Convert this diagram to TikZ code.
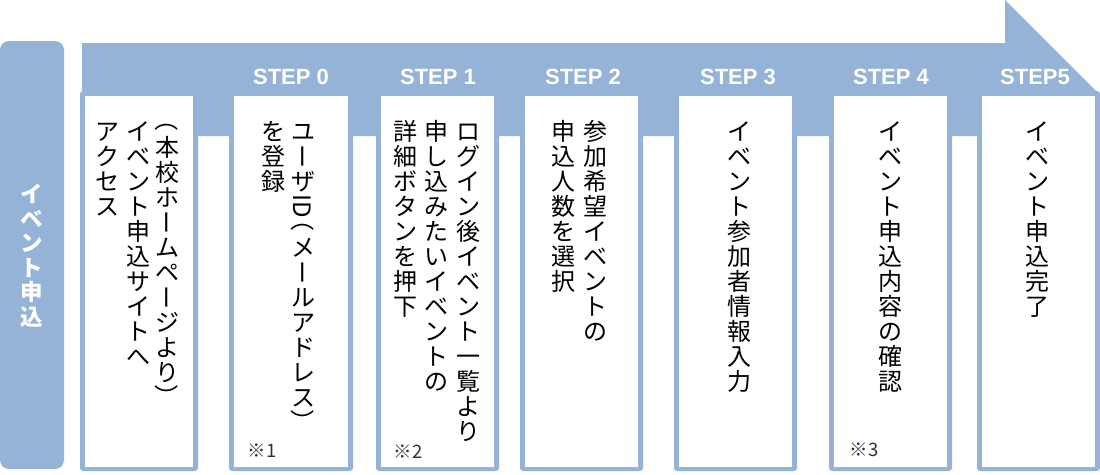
\documentclass[tikz,border=0pt]{standalone}
\usepackage{fontspec}
\usepackage{graphicx}
\newfontfamily\jpfont{Noto Sans CJK JP}
\newfontfamily\latinfont{Liberation Sans}
\definecolor{bandblue}{HTML}{95B3D7}
% vertical (tategaki) column machinery
\newcommand\vtcs{}
\newcommand\vtC[1]{\hbox to 30pt{\hss\hbox{\def\vtcs{\vrule height21.6pt depth3.4pt width0pt}#1\vtcs}\hss}}
\newcommand\vtRV[1]{\rotatebox[origin=c]{-90}{\vrule height21.12pt depth2.88pt width0pt #1}}
\newcommand\vtHO[1]{\def\vtcs{\vrule height12.5pt depth0pt width0pt}\lower2.9pt\hbox{\rotatebox[origin=c]{-90}{\vrule height21.12pt depth2.88pt width0pt\makebox[12pt][r]{#1}}}}
\newcommand\vtHC[1]{\def\vtcs{\vrule height12.5pt depth0pt width0pt}\lower2.9pt\hbox{\rotatebox[origin=c]{-90}{\vrule height21.12pt depth2.88pt width0pt\makebox[12pt][l]{#1}}}}
\def\vtloop#1{\ifx\relax#1\else\vtC{#1}\expandafter\vtloop\fi}
\newcommand\vcol[1]{\vbox{\offinterlineskip\vtloop#1\relax}}
\tikzset{
  col/.style={anchor=north, inner sep=0pt, text=black, font=\jpfont\fontsize{24}{25}\selectfont},
  sidetext/.style={anchor=north, inner sep=0pt, align=center, text=white, font=\jpfont\bfseries\fontsize{22.5}{24.5}\selectfont},
  steplabel/.style={inner sep=0pt, text=white, font=\latinfont\bfseries\fontsize{22}{22}\selectfont},
  note/.style={inner sep=0pt, text=black!80, font=\jpfont\fontsize{18.5}{18.5}\selectfont},
}
\begin{document}
\begin{tikzpicture}[x=1pt,y=-1pt]
\useasboundingbox (0,0) rectangle (1100,474);
% side bar
\fill[bandblue, rounded corners=9pt] (0,41) rectangle (64,469);
\node[sidetext] (side) at (32,184) {イ\\ベ\\ン\\ト\\申\\込};
% arrow band
\fill[bandblue] (82,43) -- (1005,43) -- (1005,0) -- (1100,95) -- (1100,136) -- (82,136) -- cycle;
% step boxes
\foreach \a/\b in {80/198,229/353,376/499,520/643,674/797,829/952,977/1100}{
  \fill[bandblue, rounded corners=3pt] (\a,91) rectangle (\b,471);
  \fill[white] (\a+5,96) rectangle (\b-5,467);
}
% step labels
\node[steplabel] (s0) at (291,77) {STEP 0};
\node[steplabel] (s1) at (438,77) {STEP 1};
\node[steplabel] (s2) at (583,77) {STEP 2};
\node[steplabel] (s3) at (738,77) {STEP 3};
\node[steplabel] (s4) at (891,77) {STEP 4};
\node[steplabel] (s5) at (1035,77) {STEP5};
% box 0
\node[col] (b0a) at (167,119) {\vcol{{\vtHO{（}}本校ホ{\vtRV{ー}}ムペ{\vtRV{ー}}ジより{\vtHC{）}}}};
\node[col] (b0b) at (138,119) {\vcol{イベント申込サイトへ}};
\node[col] (b0c) at (107,119) {\vcol{アクセス}};
% box 1
\node[col] (b1a) at (303,119) {\vcol{ユ{\vtRV{ー}}ザ{\vtRV{ID}}{\vtHO{（}}メ{\vtRV{ー}}ルアドレス{\vtHC{）}}}};
\node[col] (b1b) at (273,119) {\vcol{を登録}};
\node[note] (n1) at (262,451) {※1};
% box 2
\node[col] (b2a) at (468,119) {\vcol{ログイン後イベント一覧より}};
\node[col] (b2b) at (436,119) {\vcol{申し込みたいイベントの}};
\node[col] (b2c) at (405,119) {\vcol{詳細ボタンを押下}};
\node[note] (n2) at (408,452) {※2};
% box 3
\node[col] (b3a) at (595,119) {\vcol{参加希望イベントの}};
\node[col] (b3b) at (563,119) {\vcol{申込人数を選択}};
% box 4
\node[col] (b4a) at (739,119) {\vcol{イベント参加者情報入力}};
% box 5
\node[col] (b5a) at (890,119) {\vcol{イベント申込内容の確認}};
\node[note] (n3) at (864,450) {※3};
% box 6
\node[col] (b6a) at (1037,119) {\vcol{イベント申込完了}};
\end{tikzpicture}
\end{document}
